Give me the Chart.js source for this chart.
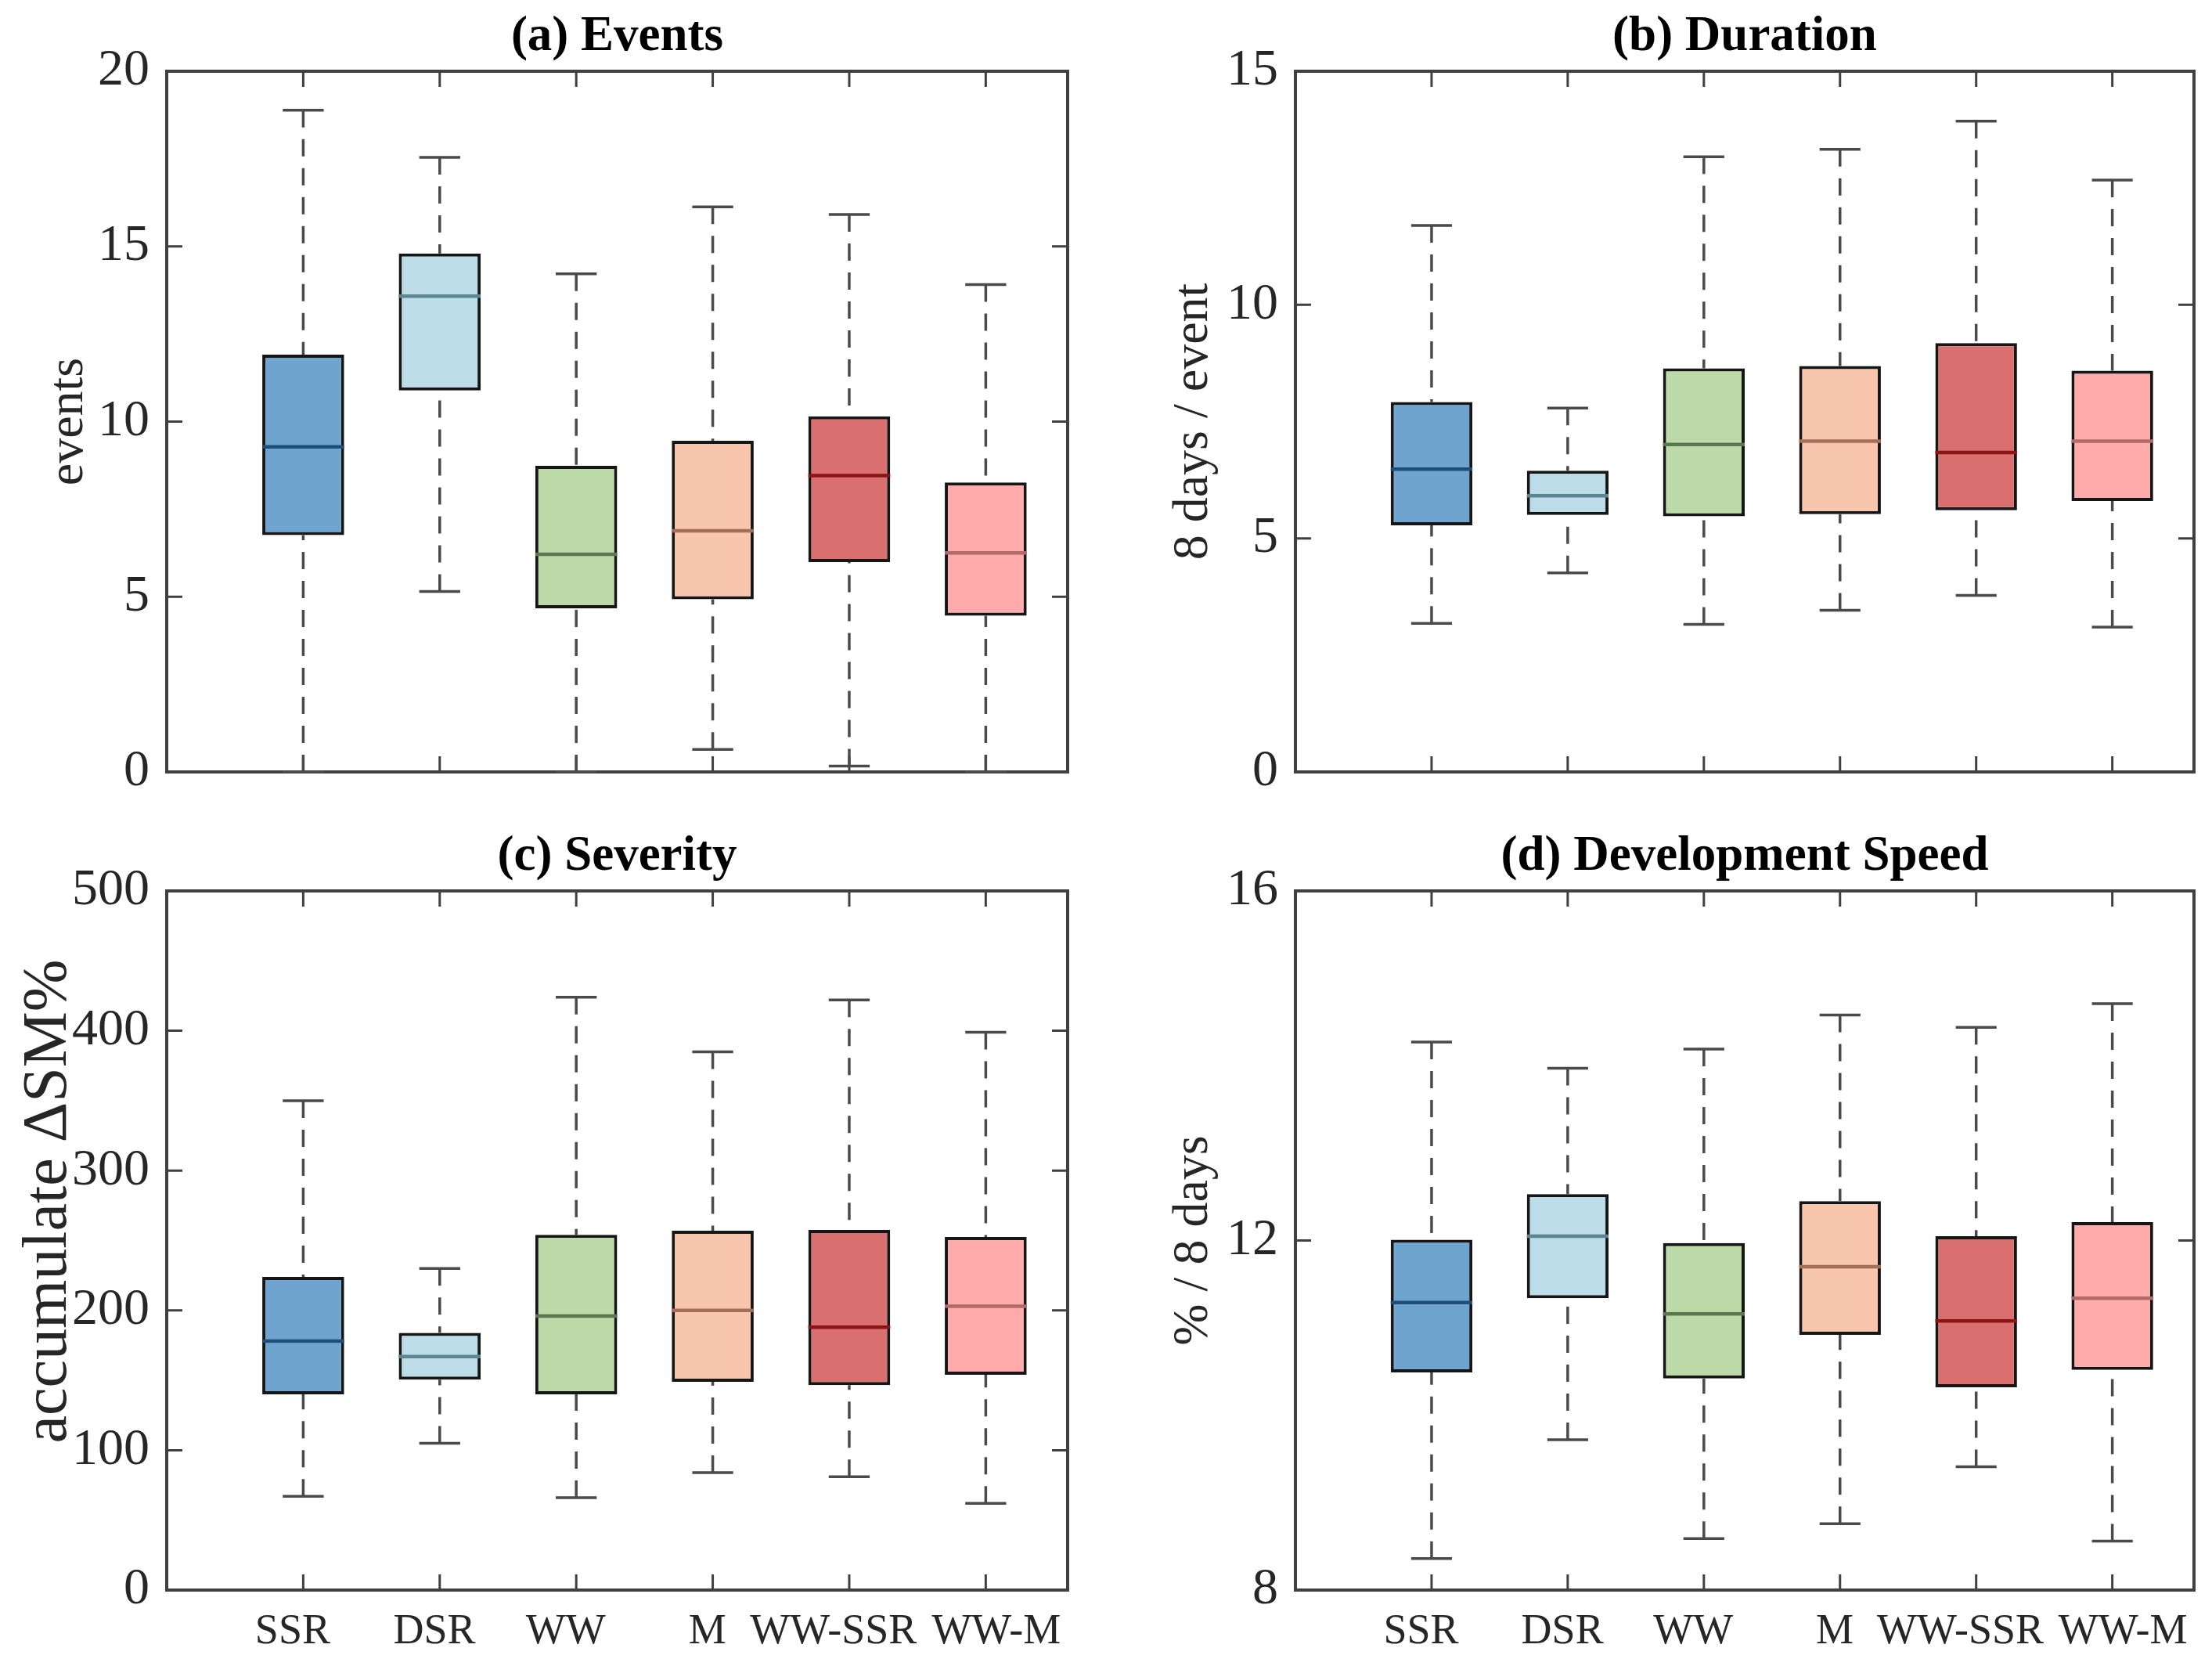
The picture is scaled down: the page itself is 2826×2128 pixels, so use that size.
<!DOCTYPE html>
<html>
<head>
<meta charset="utf-8">
<script src="https://cdn.jsdelivr.net/npm/chart.js@4.4.1/dist/chart.umd.min.js"></script>
<style>
  html, body { margin: 0; padding: 0; background: #ffffff; width: 2826px; height: 2128px; overflow: hidden; }
  canvas { position: absolute; }
</style>
</head>
<body>
<canvas id="pa" width="1413" height="1064" style="left:0px;top:0px"></canvas>
<canvas id="pb" width="1413" height="1064" style="left:1413px;top:0px"></canvas>
<canvas id="pc" width="1413" height="1081" style="left:0px;top:1047px"></canvas>
<canvas id="pd" width="1413" height="1081" style="left:1413px;top:1047px"></canvas>
<script>
// ---------- data ----------
const categories = ['SSR', 'DSR', 'WW', 'M', 'WW-SSR', 'WW-M'];
// tick label text as printed under the lower panels (spacing mimics the original placement)
const categoryTickLabels = ['SSR  ', 'DSR ', 'WW  ', 'M ', 'WW-SSR   ', '  WW-M'];

// (a) Events
const eventsMin    = [0,     5.15,  0,     0.64,  0.17,  0];
const eventsQ1     = [6.76,  10.89, 4.67,  4.93,  5.99,  4.46];
const eventsMedian = [9.28,  13.58, 6.21,  6.88,  8.46,  6.25];
const eventsQ3     = [11.91, 14.80, 8.74,  9.45,  10.15, 8.26];
const eventsMax    = [18.89, 17.54, 14.22, 16.13, 15.91, 13.91];
const eventsTicks  = [0, 5, 10, 15, 20];

// (b) Duration
const durationMin    = [3.18,  4.26, 3.16,  3.46,  3.78,  3.10];
const durationQ1     = [5.28,  5.50, 5.47,  5.52,  5.60,  5.80];
const durationMedian = [6.48,  5.91, 7.01,  7.08,  6.84,  7.08];
const durationQ3     = [7.92,  6.45, 8.64,  8.69,  9.18,  8.59];
const durationMax    = [11.70, 7.79, 13.17, 13.33, 13.93, 12.67];
const durationTicks  = [0, 5, 10, 15];

// (c) Severity
const severityMin    = [67,  105,   66,  84,  81,    62];
const severityQ1     = [140, 150.5, 140, 149, 146.5, 154];
const severityMedian = [178, 167,   196, 200, 188,   203];
const severityQ3     = [224, 184,   254, 257, 257.5, 252.5];
const severityMax    = [350, 230,   424, 385, 422,   399];
const severityTicks  = [0, 100, 200, 300, 400, 500];

// (d) Development Speed
const speedMin    = [8.36,  9.72,  8.59,  8.76,  9.41,  8.56];
const speedQ1     = [10.49, 11.34, 10.42, 10.92, 10.32, 10.52];
const speedMedian = [11.29, 12.05, 11.16, 11.70, 11.08, 11.34];
const speedQ3     = [12.01, 12.53, 11.97, 12.45, 12.05, 12.21];
const speedMax    = [14.27, 13.97, 14.19, 14.58, 14.44, 14.71];
const speedTicks  = [8, 12, 16];

// ---------- styles ----------
const FONT = "'Liberation Serif', 'Times New Roman', serif";
const INK = '#262626';
const AXIS = '#404040';
const WHISK = '#4a4a4a';
const boxFill = ['#6fa4cf', '#bcdce8', '#bbdaa8', '#f8c6ad', '#d96f6f', '#ffabab'];
const medianColor = ['#1f4e79', '#5b8594', '#5a7850', '#a46e5a', '#8b1414', '#b06a6a'];
const HALF = 0.3;   // half box width (category units)
const CAP = 0.15;   // half cap width

const framePlugin = {
  id: 'frame',
  beforeDatasetsDraw(chart) {
    const { ctx, chartArea: { left, right, top, bottom }, scales: { x, y } } = chart;
    const TL = 20;
    ctx.save();
    ctx.strokeStyle = AXIS;
    ctx.lineWidth = 4;
    ctx.strokeRect(left, top, right - left, bottom - top);
    ctx.lineWidth = 3;
    ctx.beginPath();
    x.ticks.forEach(t => {
      const px = x.getPixelForValue(t.value);
      ctx.moveTo(px, bottom); ctx.lineTo(px, bottom - TL);
      ctx.moveTo(px, top); ctx.lineTo(px, top + TL);
    });
    y.ticks.forEach(t => {
      const py = y.getPixelForValue(t.value);
      if (Math.abs(py - top) < 2 || Math.abs(py - bottom) < 2) return;
      ctx.moveTo(left, py); ctx.lineTo(left + TL, py);
      ctx.moveTo(right, py); ctx.lineTo(right - TL, py);
    });
    ctx.stroke();
    ctx.restore();
  }
};

function boxChart(id, p) {
  const pos = categories.map((c, i) => i + 1);
  const boxes = pos.map((x, i) => ({ x, y: [p.q1[i], p.q3[i]] }));
  const whisk = [], caps = [], meds = [];
  pos.forEach((x, i) => {
    whisk.push({ x, y: p.max[i] }, { x, y: p.q3[i] }, { x, y: null },
               { x, y: p.min[i] }, { x, y: p.q1[i] }, { x, y: null });
    caps.push({ x: x - CAP, y: p.max[i] }, { x: x + CAP, y: p.max[i] }, { x, y: null },
              { x: x - CAP, y: p.min[i] }, { x: x + CAP, y: p.min[i] }, { x, y: null });
    meds.push({ x: x - HALF, y: p.med[i] }, { x: x + HALF, y: p.med[i] }, { x, y: null });
  });

  return new Chart(document.getElementById(id), {
    type: 'bar',
    data: {
      datasets: [
        { type: 'line', data: meds, borderWidth: 4.5, borderColor: medianColor[0],
          segment: { borderColor: c => medianColor[Math.floor(c.p0DataIndex / 3)] },
          pointRadius: 0, spanGaps: false, order: 0, clip: false },
        { type: 'line', data: caps, borderColor: WHISK, borderWidth: 3.5, pointRadius: 0,
          spanGaps: false, order: 1, clip: false },
        { type: 'line', data: whisk, borderColor: WHISK, borderWidth: 3.5, borderDash: [22, 15],
          pointRadius: 0, spanGaps: false, order: 1, clip: false },
        { type: 'bar', data: boxes, backgroundColor: boxFill, borderColor: '#161616', borderWidth: 4,
          borderSkipped: false, barPercentage: 0.6, categoryPercentage: 1, order: 2 }
      ]
    },
    options: {
      responsive: false,
      animation: false,
      devicePixelRatio: 1,
      layout: { padding: { left: 0, right: p.padRight, top: 0, bottom: 0 } },
      plugins: {
        legend: { display: false },
        tooltip: { enabled: false },
        title: {
          display: true, text: p.title, fullSize: false, color: '#000000',
          font: { family: FONT, size: 63, weight: 'bold', lineHeight: 1 },
          padding: { top: 16, bottom: 12 }
        }
      },
      scales: {
        x: {
          type: 'linear', min: 0, max: 6.6, offset: false,
          grid: { display: false, drawTicks: false }, border: { display: false },
          afterBuildTicks: s => { s.ticks = pos.map(v => ({ value: v })); },
          afterFit: s => { s.height = p.xHeight; },
          ticks: {
            display: p.showX, autoSkip: false, maxRotation: 0, minRotation: 0, padding: 27,
            color: INK, font: { family: FONT, size: 54, lineHeight: 1 },
            callback: v => categoryTickLabels[Math.round(v) - 1]
          }
        },
        y: {
          type: 'linear', min: p.ticks[0], max: p.ticks[p.ticks.length - 1],
          grid: { display: false, drawTicks: false }, border: { display: false },
          afterBuildTicks: s => { s.ticks = p.ticks.map(v => ({ value: v })); },
          afterFit: s => { s.width = p.yWidth; },
          ticks: { padding: 22, color: INK, font: { family: FONT, size: 66, lineHeight: 1 } },
          title: {
            display: true, text: p.yTitle, color: INK,
            font: { family: FONT, size: p.yTitleSize, lineHeight: 1 },
            padding: { top: p.yTitlePad, bottom: 0 }
          }
        }
      }
    },
    plugins: [framePlugin]
  });
}

boxChart('pa', { title: '(a) Events', yTitle: 'events', yTitleSize: 64, yTitlePad: 56,
  min: eventsMin, q1: eventsQ1, med: eventsMedian, q3: eventsQ3, max: eventsMax, ticks: eventsTicks,
  yWidth: 213, padRight: 49, xHeight: 78, showX: false });
boxChart('pb', { title: '(b) Duration', yTitle: '8 days / event', yTitleSize: 64, yTitlePad: 80,
  min: durationMin, q1: durationQ1, med: durationMedian, q3: durationQ3, max: durationMax, ticks: durationTicks,
  yWidth: 242, padRight: 23, xHeight: 78, showX: false });
boxChart('pc', { title: '(c) Severity', yTitle: '     accumulate ΔSM%', yTitleSize: 80, yTitlePad: 23,
  min: severityMin, q1: severityQ1, med: severityMedian, q3: severityQ3, max: severityMax, ticks: severityTicks,
  yWidth: 213, padRight: 49, xHeight: 97, showX: true });
boxChart('pd', { title: '(d) Development Speed', yTitle: '% / 8 days', yTitleSize: 64, yTitlePad: 80,
  min: speedMin, q1: speedQ1, med: speedMedian, q3: speedQ3, max: speedMax, ticks: speedTicks,
  yWidth: 242, padRight: 23, xHeight: 97, showX: true });
</script>
</body>
</html>
